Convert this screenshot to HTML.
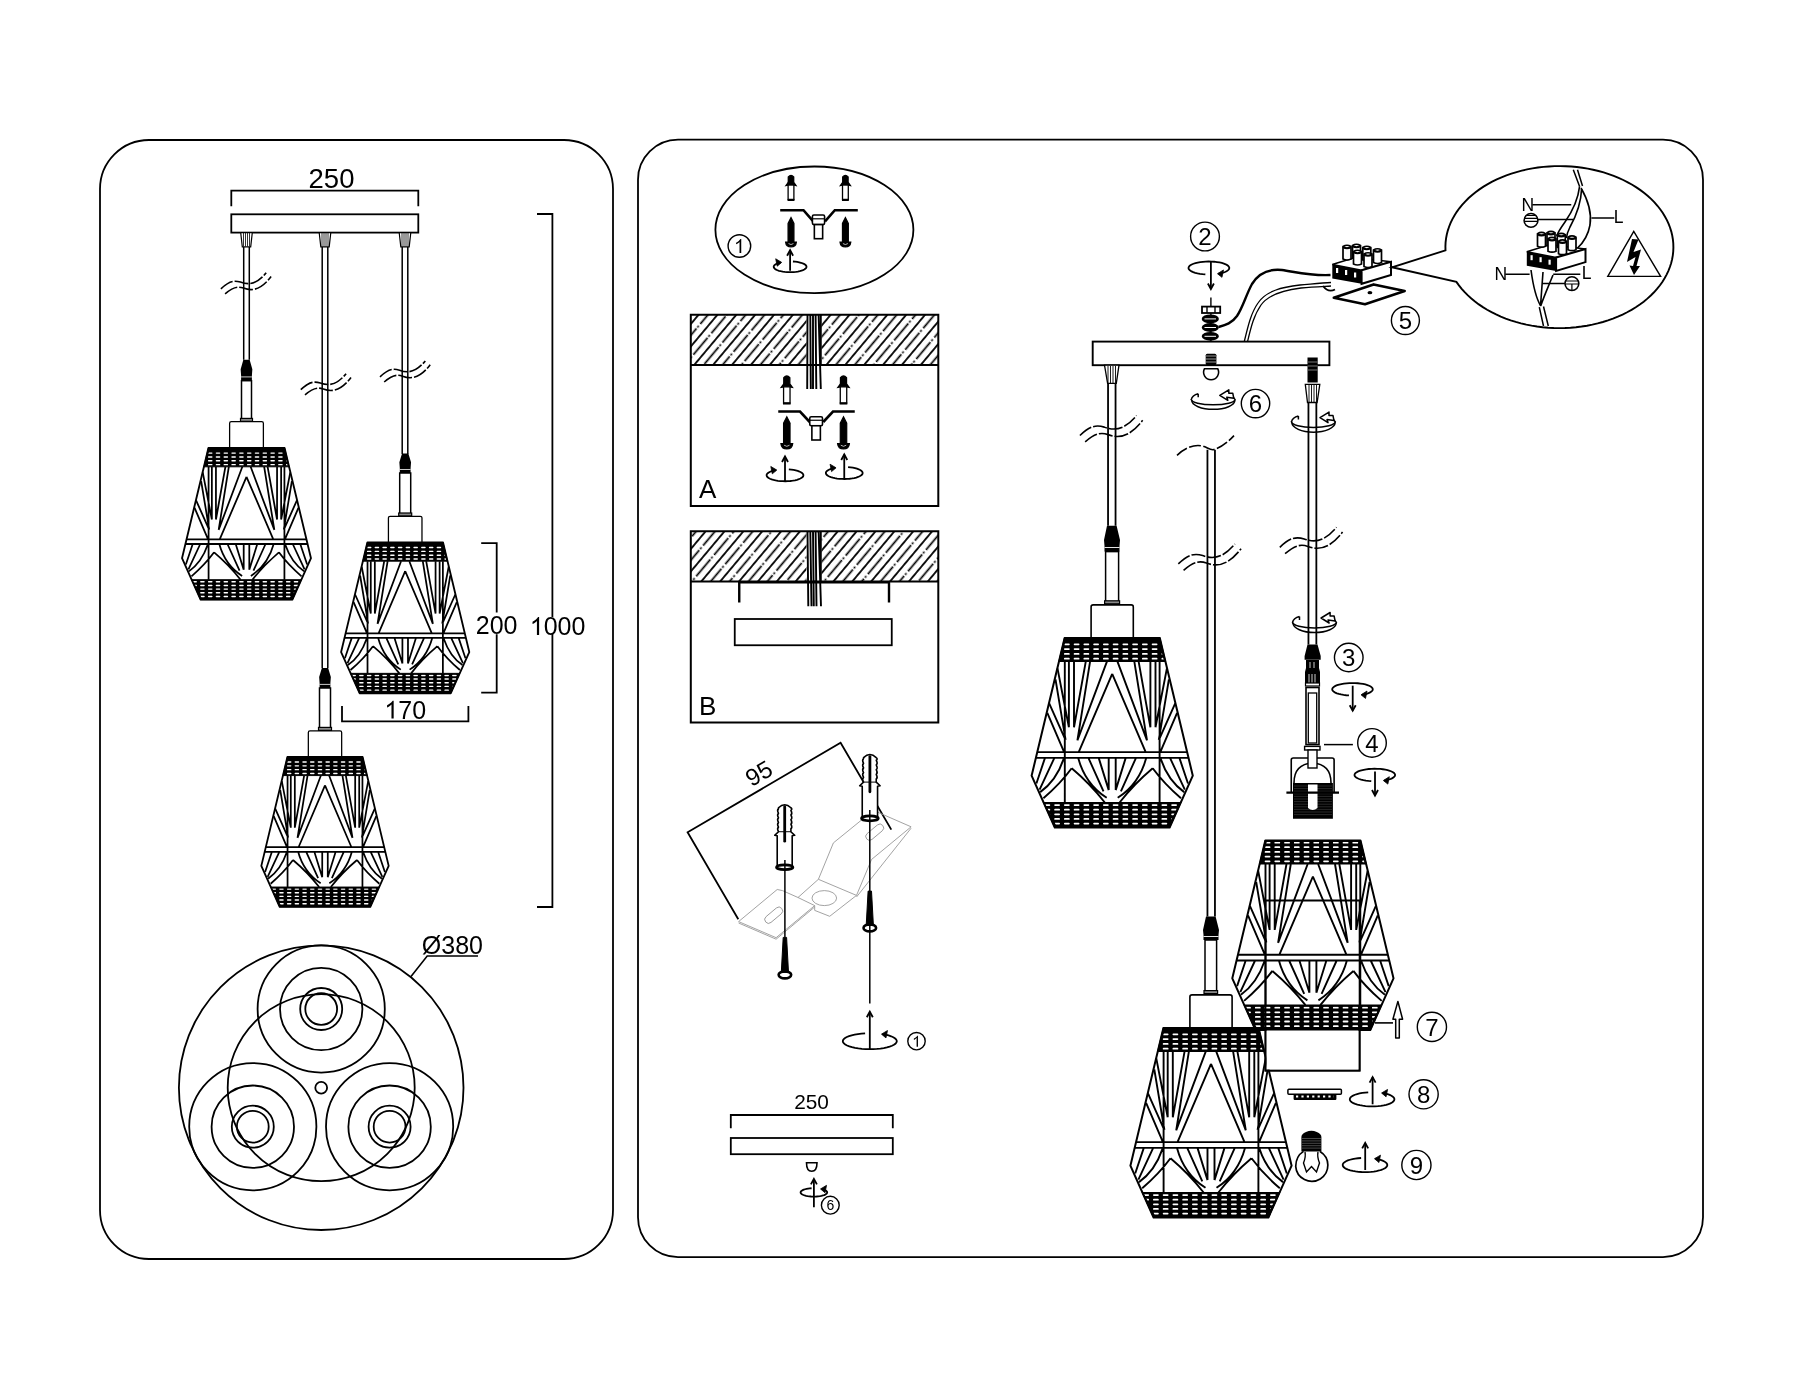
<!DOCTYPE html>
<html><head><meta charset="utf-8"><style>
html,body{margin:0;padding:0;background:#fff;width:1800px;height:1400px;overflow:hidden}
svg{display:block;will-change:transform}
text{font-family:"Liberation Sans",sans-serif;fill:#000}
</style></head><body>
<svg width="1800" height="1400" viewBox="0 0 1800 1400">
<defs>
<g id="shade">
<path d="M-47.6,0H47.6L80.6,137.8L57.4,189.6H-57.4L-80.6,137.8Z" fill="#fff" stroke="none"/>
<path d="M-54.7,30.5L-43.3,89.4M54.7,30.5L43.3,89.4M-43.3,23.5L-43.3,89.4M43.3,23.5L43.3,89.4M-38.2,23.5L-38.2,89.4M38.2,23.5L38.2,89.4M-26.4,23.5L-38.2,89.4M26.4,23.5L38.2,89.4M-56.7,41.5L-46.6,102M56.7,41.5L46.6,102M-22.1,23.5L-34.8,102.4M22.1,23.5L34.8,102.4M-5.2,23.5L-34.8,102.4M5.2,23.5L34.8,102.4M0,36L-33.5,114.2M0,36L33.5,114.2M-63,65.4L-47.4,100.4M63,65.4L47.4,100.4M-64.9,74.9L-48.4,113.4M64.9,74.9L48.4,113.4M-67.2,120L-75.8,145.6M67.2,120L75.8,145.6M-57.8,120L-72.6,151.7M57.8,120L72.6,151.7M-13.5,120L-3.5,152.2M13.5,120L3.5,152.2M-3.5,120L-3.5,152.2M3.5,120L3.5,152.2M-23.8,120L-8.7,153.4M23.8,120L8.7,153.4M-48.5,121Q-56,143 -72,154.2M48.5,121Q56,143 72,154.2M-40.5,130.4Q-52,146 -68.8,160.4M40.5,130.4Q52,146 68.8,160.4M-40.5,130.4Q-22,146 -7.4,164.6M40.5,130.4Q22,146 7.4,164.6M-34,120Q-27,146 -5.5,159.9M34,120Q27,146 5.5,159.9M-47.4,23.5V164.6M47.4,23.5V164.6M-74.94833091436865,114.2H74.94833091436865M-76.33730043541364,120H76.33730043541364" fill="none" stroke="#000" stroke-width="1.9"/>
<path d="M-47.6,0H47.6L53.227721335268505,23.5H-53.227721335268505Z" fill="#000" stroke="#000" stroke-width="1.2"/>
<path d="M-68.5969111969112,164.6H68.5969111969112L57.4,189.6H-57.4Z" fill="#000" stroke="#000" stroke-width="1.2"/>
<clipPath id="bandclip"><path d="M-46.1,1.2H46.1L51.727721335268505,22.4H-51.727721335268505ZM-67.0969111969112,166H67.0969111969112L55.9,187.79999999999998H-55.9Z"/></clipPath>
<path d="M-95,6.4H95M-95,11.2H95M-95,16.0H95M-95,20.8H95M-95,167.2H95M-95,171.8H95M-95,176.4H95M-95,181.0H95M-95,185.7H95" clip-path="url(#bandclip)" stroke="#fff" stroke-width="1.8" stroke-linecap="round" stroke-dasharray="4.0 5.75" stroke-dashoffset="1.1" fill="none"/>
<path d="M-47.6,0H47.6L80.6,137.8L57.4,189.6H-57.4L-80.6,137.8Z" fill="none" stroke="#000" stroke-width="2.0" stroke-linejoin="round"/>
</g>
<g id="shadeS">
<path d="M-47.6,0H47.6L80.6,137.8L57.4,189.6H-57.4L-80.6,137.8Z" fill="#fff" stroke="none"/>
<path d="M-54.7,30.5L-43.3,89.4M54.7,30.5L43.3,89.4M-43.3,23.5L-43.3,89.4M43.3,23.5L43.3,89.4M-38.2,23.5L-38.2,89.4M38.2,23.5L38.2,89.4M-26.4,23.5L-38.2,89.4M26.4,23.5L38.2,89.4M-56.7,41.5L-46.6,102M56.7,41.5L46.6,102M-22.1,23.5L-34.8,102.4M22.1,23.5L34.8,102.4M-5.2,23.5L-34.8,102.4M5.2,23.5L34.8,102.4M0,36L-33.5,114.2M0,36L33.5,114.2M-63,65.4L-47.4,100.4M63,65.4L47.4,100.4M-64.9,74.9L-48.4,113.4M64.9,74.9L48.4,113.4M-67.2,120L-75.8,145.6M67.2,120L75.8,145.6M-57.8,120L-72.6,151.7M57.8,120L72.6,151.7M-13.5,120L-3.5,152.2M13.5,120L3.5,152.2M-3.5,120L-3.5,152.2M3.5,120L3.5,152.2M-23.8,120L-8.7,153.4M23.8,120L8.7,153.4M-48.5,121Q-56,143 -72,154.2M48.5,121Q56,143 72,154.2M-40.5,130.4Q-52,146 -68.8,160.4M40.5,130.4Q52,146 68.8,160.4M-40.5,130.4Q-22,146 -7.4,164.6M40.5,130.4Q22,146 7.4,164.6M-34,120Q-27,146 -5.5,159.9M34,120Q27,146 5.5,159.9M-47.4,23.5V164.6M47.4,23.5V164.6M-74.94833091436865,114.2H74.94833091436865M-76.33730043541364,120H76.33730043541364" fill="none" stroke="#000" stroke-width="2.2"/>
<path d="M-47.6,0H47.6L53.227721335268505,23.5H-53.227721335268505Z" fill="#000" stroke="#000" stroke-width="1.2"/>
<path d="M-68.5969111969112,164.6H68.5969111969112L57.4,189.6H-57.4Z" fill="#000" stroke="#000" stroke-width="1.2"/>
<clipPath id="bandclipS"><path d="M-46.1,1.2H46.1L51.727721335268505,22.4H-51.727721335268505ZM-67.0969111969112,166H67.0969111969112L55.9,187.79999999999998H-55.9Z"/></clipPath>
<path d="M-95,6.4H95M-95,11.2H95M-95,16.0H95M-95,20.8H95M-95,167.2H95M-95,171.8H95M-95,176.4H95M-95,181.0H95M-95,185.7H95" clip-path="url(#bandclipS)" stroke="#fff" stroke-width="1.8" stroke-linecap="round" stroke-dasharray="4.0 5.75" stroke-dashoffset="1.1" fill="none"/>
<path d="M-47.6,0H47.6L80.6,137.8L57.4,189.6H-57.4L-80.6,137.8Z" fill="none" stroke="#000" stroke-width="2.3" stroke-linejoin="round"/>
</g>
<g id="shade5">
<path d="M-47.6,0H47.6L80.6,137.8L57.4,189.6H-57.4L-80.6,137.8Z" fill="#fff" stroke="none"/>
<path d="M-54.7,30.5L-43.3,89.4M54.7,30.5L43.3,89.4M-43.3,23.5L-43.3,89.4M43.3,23.5L43.3,89.4M-38.2,23.5L-38.2,89.4M38.2,23.5L38.2,89.4M-26.4,23.5L-38.2,89.4M26.4,23.5L38.2,89.4M-56.7,41.5L-46.6,102M56.7,41.5L46.6,102M-22.1,23.5L-34.8,102.4M22.1,23.5L34.8,102.4M-5.2,23.5L-34.8,102.4M5.2,23.5L34.8,102.4M0,36L-33.5,114.2M0,36L33.5,114.2M-63,65.4L-47.4,100.4M63,65.4L47.4,100.4M-64.9,74.9L-48.4,113.4M64.9,74.9L48.4,113.4M-67.2,120L-75.8,145.6M67.2,120L75.8,145.6M-57.8,120L-72.6,151.7M57.8,120L72.6,151.7M-13.5,120L-3.5,152.2M13.5,120L3.5,152.2M-3.5,120L-3.5,152.2M3.5,120L3.5,152.2M-23.8,120L-8.7,153.4M23.8,120L8.7,153.4M-48.5,121Q-56,143 -72,154.2M48.5,121Q56,143 72,154.2M-40.5,130.4Q-52,146 -68.8,160.4M40.5,130.4Q52,146 68.8,160.4M-40.5,130.4Q-22,146 -7.4,164.6M40.5,130.4Q22,146 7.4,164.6M-34,120Q-27,146 -5.5,159.9M34,120Q27,146 5.5,159.9M-47.4,23.5V164.6M47.4,23.5V164.6M-74.94833091436865,114.2H74.94833091436865M-76.33730043541364,120H76.33730043541364" fill="none" stroke="#000" stroke-width="1.9"/>
<path d="M-47.6,0H47.6L53.227721335268505,23.5H-53.227721335268505Z" fill="#000" stroke="#000" stroke-width="1.2"/>
<path d="M-68.5969111969112,164.6H68.5969111969112L57.4,189.6H-57.4Z" fill="#000" stroke="#000" stroke-width="1.2"/>
<clipPath id="bandclip5"><path d="M-46.1,1.2H46.1L51.727721335268505,22.4H-51.727721335268505ZM-67.0969111969112,166H67.0969111969112L55.9,187.79999999999998H-55.9Z"/></clipPath>
<path d="M-95,2.2H95M-95,6.7H95M-95,11.4H95M-95,16.1H95M-95,20.8H95M-95,167.2H95M-95,171.8H95M-95,176.4H95M-95,181.0H95M-95,185.7H95" clip-path="url(#bandclip5)" stroke="#fff" stroke-width="1.8" stroke-linecap="round" stroke-dasharray="4.0 5.75" stroke-dashoffset="1.1" fill="none"/>
<path d="M-47.6,0H47.6L80.6,137.8L57.4,189.6H-57.4L-80.6,137.8Z" fill="none" stroke="#000" stroke-width="2.0" stroke-linejoin="round"/>
</g>
</defs>
<rect x="100" y="140" width="513" height="1119" rx="49" ry="49" fill="none" stroke="#000" stroke-width="1.8"/>
<text x="331.5" y="187.6" font-size="27.5" text-anchor="middle" >250</text>
<path d="M231.3,206.3V190.7H418.3V206.3" fill="none" stroke="#000" stroke-width="1.8"/>
<rect x="231.3" y="214.3" width="187" height="18.3" fill="#fff" stroke="#000" stroke-width="1.8"/>
<path d="M240.7,232.6H252.3L250.7,246.9H242.3Z" fill="#fff" stroke="#000" stroke-width="1.2"/>
<path d="M243.5,233V246.5M245.5,233V246.5M247.5,233V246.5M249.5,233V246.5" stroke="#000" stroke-width="0.8"/>
<path d="M319.2,232.6H330.8L329.2,246.9H320.8Z" fill="#fff" stroke="#000" stroke-width="1.2"/>
<path d="M322,233V246.5M324,233V246.5M326,233V246.5M328,233V246.5" stroke="#000" stroke-width="0.8"/>
<path d="M399.2,232.6H410.8L409.2,246.9H400.8Z" fill="#fff" stroke="#000" stroke-width="1.2"/>
<path d="M402,233V246.5M404,233V246.5M406,233V246.5M408,233V246.5" stroke="#000" stroke-width="0.8"/>
<path d="M243.7,246.9V359.7M249.3,246.9V359.7" stroke="#000" stroke-width="1.5" fill="none"/>
<path d="M322.2,246.9V668M327.8,246.9V668" stroke="#000" stroke-width="1.5" fill="none"/>
<path d="M402.2,246.9V454M407.8,246.9V454" stroke="#000" stroke-width="1.5" fill="none"/>
<path d="M220.9,288.8C227.4,282.6 232.4,279.6 240.4,282.1C248.4,285.1 256.4,284.6 266.2,272.8M225.1,293.90000000000003C231.4,288.6 236.4,285.6 243.4,288.1C251.4,291.1 260.4,290.6 271.1,276.6" stroke="#000" stroke-width="1.6" fill="none" stroke-dasharray="14 2"/>
<path d="M300.8,389.7C307.3,383.5 312.3,380.5 320.3,383.0C328.3,386.0 336.3,385.5 346.1,373.7M305.0,394.8C311.3,389.5 316.3,386.5 323.3,389.0C331.3,392.0 340.3,391.5 351.0,377.5" stroke="#000" stroke-width="1.6" fill="none" stroke-dasharray="14 2"/>
<path d="M380.0,376.9C386.5,370.7 391.5,367.7 399.5,370.2C407.5,373.2 415.5,372.7 425.3,360.9M384.2,382.0C390.5,376.7 395.5,373.7 402.5,376.2C410.5,379.2 419.5,378.7 430.2,364.7" stroke="#000" stroke-width="1.6" fill="none" stroke-dasharray="14 2"/>
<path d="M243.35,359.7H249.65L252.35,369.15L251.9,375.45V380.7H241.1V375.45L240.65,369.15Z" fill="#000"/><path d="M241.1,376.91999999999996H251.9" stroke="#fff" stroke-width="0.8"/>
<rect x="241.5" y="380.7" width="10" height="41.30000000000001" fill="#fff" stroke="#000" stroke-width="1.5"/><rect x="240.5" y="418.4" width="12" height="3" fill="#888" stroke="#000" stroke-width="1.2"/>
<path d="M229.62,448V423.2Q229.62,421.6 231.3,421.6H261.7Q263.38,421.6 263.38,423.2V448" fill="#fff" stroke="#000" stroke-width="1.28"/>
<use href="#shadeS" transform="translate(246.5,448) scale(0.8)"/>
<path d="M402.05,453.5H408.34999999999997L411.05,462.275L410.59999999999997,468.125V473H399.8V468.125L399.34999999999997,462.275Z" fill="#000"/><path d="M399.8,469.49H410.59999999999997" stroke="#fff" stroke-width="0.8"/>
<rect x="399.7" y="473" width="11" height="43.60000000000002" fill="#fff" stroke="#000" stroke-width="1.5"/><rect x="398.7" y="513.0" width="13" height="3" fill="#888" stroke="#000" stroke-width="1.2"/>
<path d="M388.4255,542.5V517.855Q388.4255,516.265 390.09499999999997,516.265H420.305Q421.9745,516.265 421.9745,517.855V542.5" fill="#fff" stroke="#000" stroke-width="1.27"/>
<use href="#shadeS" transform="translate(405.2,542.5) scale(0.795)"/>
<path d="M321.85,668H328.15L330.85,677.0L330.4,683.0V688H319.6V683.0L319.15,677.0Z" fill="#000"/><path d="M319.6,684.4H330.4" stroke="#fff" stroke-width="0.8"/>
<rect x="319.5" y="688" width="11" height="43" fill="#fff" stroke="#000" stroke-width="1.5"/><rect x="318.5" y="727.4" width="13" height="3" fill="#888" stroke="#000" stroke-width="1.2"/>
<path d="M308.331,757V732.51Q308.331,730.93 309.99,730.93H340.01Q341.669,730.93 341.669,732.51V757" fill="#fff" stroke="#000" stroke-width="1.26"/>
<use href="#shadeS" transform="translate(325,757) scale(0.79)"/>
<path d="M481.2,543.1H496.7V612.4M496.7,634.2V692.7H481.2" fill="none" stroke="#000" stroke-width="1.8"/>
<text x="496.6" y="633.8" font-size="25" text-anchor="middle" >200</text>
<path d="M537,214H552.4V617M552.4,634V907H537" fill="none" stroke="#000" stroke-width="1.8"/>
<path d="M0.3726,0 H0.2847 V0.56 C0.2625,0.535 0.23,0.51 0.19,0.485 C0.15,0.46 0.125,0.45 0.1089,0.445 V0.53 C0.15,0.548 0.2,0.58 0.245,0.62 C0.29,0.66 0.315,0.69 0.3325,0.716 H0.3726 Z" transform="translate(529.8000000000001,635) scale(25,-25)" fill="#000"/><text x="550.65" y="635" font-size="25" text-anchor="middle">0</text><text x="564.55" y="635" font-size="25" text-anchor="middle">0</text><text x="578.45" y="635" font-size="25" text-anchor="middle">0</text>
<path d="M342,706V721.3H468.4V706" fill="none" stroke="#000" stroke-width="1.8"/>
<path d="M0.3726,0 H0.2847 V0.56 C0.2625,0.535 0.23,0.51 0.19,0.485 C0.15,0.46 0.125,0.45 0.1089,0.445 V0.53 C0.15,0.548 0.2,0.58 0.245,0.62 C0.29,0.66 0.315,0.69 0.3325,0.716 H0.3726 Z" transform="translate(384.34999999999997,718.6) scale(25,-25)" fill="#000"/><text x="405.20" y="718.6" font-size="25" text-anchor="middle">7</text><text x="419.10" y="718.6" font-size="25" text-anchor="middle">0</text>
<g fill="none" stroke="#000" stroke-width="1.8">
<circle cx="321.2" cy="1087.7" r="142.3"/><circle cx="321.2" cy="1087.7" r="93.5"/><circle cx="321.2" cy="1087.7" r="5.9"/>
<circle cx="321.2" cy="1009" r="63.6"/>
<circle cx="321.2" cy="1009" r="41.2"/>
<circle cx="321.2" cy="1009" r="21"/>
<circle cx="321.2" cy="1009" r="15.9"/>
<circle cx="252.8" cy="1126.7" r="63.6"/>
<circle cx="252.8" cy="1126.7" r="41.2"/>
<circle cx="252.8" cy="1126.7" r="21"/>
<circle cx="252.8" cy="1126.7" r="15.9"/>
<circle cx="389.6" cy="1126.7" r="63.6"/>
<circle cx="389.6" cy="1126.7" r="41.2"/>
<circle cx="389.6" cy="1126.7" r="21"/>
<circle cx="389.6" cy="1126.7" r="15.9"/>
</g>
<path d="M411,976.6L427.2,956H478" fill="none" stroke="#000" stroke-width="1.6"/>
<text x="452.4" y="953.8" font-size="25" text-anchor="middle" >Ø380</text>
<rect x="638" y="139.7" width="1065" height="1117.5" rx="40" ry="40" fill="none" stroke="#000" stroke-width="1.8"/>
<ellipse cx="814.4" cy="229.8" rx="99" ry="63.3" fill="none" stroke="#000" stroke-width="1.8"/>
<circle cx="739.4" cy="246" r="11.3" fill="none" stroke="#000" stroke-width="1.4"/><path d="M0.3726,0 H0.2847 V0.56 C0.2625,0.535 0.23,0.51 0.19,0.485 C0.15,0.46 0.125,0.45 0.1089,0.445 V0.53 C0.15,0.548 0.2,0.58 0.245,0.62 C0.29,0.66 0.315,0.69 0.3325,0.716 H0.3726 Z" transform="translate(733.9789999999999,253.02) scale(19.5,-19.5)" fill="#000"/>
<path d="M788.2896551724137,185.0413793103448V176.9103448275862Q791,173.74827586206897 793.7103448275863,176.9103448275862V185.0413793103448L795.9689655172414,185.49310344827586L793.7103448275863,182.3310344827586V185.0413793103448Z" fill="#000" stroke="#000" stroke-width="1.3"/><path d="M788.2896551724137,182.3310344827586L786.0310344827586,185.49310344827586L788.2896551724137,185.0413793103448Z" fill="#000" stroke="#000" stroke-width="1.3"/><rect x="788.1089655172414" y="185.0413793103448" width="5.782068965517242" height="14.455172413793104" fill="#fff" stroke="#000" stroke-width="1.3"/><path d="M787.5668965517241,199.94827586206895H794.4331034482759" stroke="#000" stroke-width="2.08"/><path d="M842.6896551724137,185.0413793103448V176.9103448275862Q845.4,173.74827586206897 848.1103448275862,176.9103448275862V185.0413793103448L850.3689655172413,185.49310344827586L848.1103448275862,182.3310344827586V185.0413793103448Z" fill="#000" stroke="#000" stroke-width="1.3"/><path d="M842.6896551724137,182.3310344827586L840.4310344827586,185.49310344827586L842.6896551724137,185.0413793103448Z" fill="#000" stroke="#000" stroke-width="1.3"/><rect x="842.5089655172413" y="185.0413793103448" width="5.782068965517242" height="14.455172413793104" fill="#fff" stroke="#000" stroke-width="1.3"/><path d="M841.9668965517241,199.94827586206895H848.8331034482759" stroke="#000" stroke-width="2.08"/><path d="M780.2,210.2H803.5L813.25,221.4M825.05,221.4L834.8,210.2H857.8" fill="none" stroke="#000" stroke-width="2.6"/><rect x="812.4" y="215" width="12.200000000000045" height="9.599999999999994" rx="1.5" fill="#fff" stroke="#000" stroke-width="1.6"/><path d="M812.4,218.8H824.6" stroke="#000" stroke-width="1.2"/><rect x="814.35" y="224.6" width="8.3" height="14.1" fill="#fff" stroke="#000" stroke-width="1.6"/><path d="M791,217.6L793.94,223.48V242.1H788.06V223.48Z" fill="#000" stroke="#000" stroke-width="1.2"/><path d="M785.61,242.1H796.39Q795.9,247.0 791,247.0Q786.1,247.0 785.61,242.1Z" fill="#000" stroke="#000" stroke-width="1.2"/><path d="M788.55,243.57Q791,245.53 793.45,243.57" fill="none" stroke="#fff" stroke-width="0.7"/><path d="M845.4,217.6L848.34,223.48V242.1H842.4599999999999V223.48Z" fill="#000" stroke="#000" stroke-width="1.2"/><path d="M840.01,242.1H850.79Q850.3,247.0 845.4,247.0Q840.5,247.0 840.01,242.1Z" fill="#000" stroke="#000" stroke-width="1.2"/><path d="M842.9499999999999,243.57Q845.4,245.53 847.85,243.57" fill="none" stroke="#fff" stroke-width="0.7"/>
<path d="M792.95,261.48 L795.13,261.66 L797.22,261.94 L799.18,262.30 L800.97,262.76 L802.55,263.28 L803.89,263.88 L804.98,264.53 L805.78,265.22 L806.29,265.94 L806.50,266.68 L806.39,267.42 L805.98,268.15 L805.27,268.86 L804.27,269.52 L803.00,270.13 L801.49,270.68 L799.77,271.16 L797.86,271.56 L795.81,271.86 L793.65,272.07 L791.42,272.18 L789.17,272.19 L786.94,272.10 L784.76,271.91 L782.69,271.62 L780.75,271.24 L778.99,270.77 L777.45,270.23 L776.14,269.63 L775.09,268.97 L774.33,268.28 L773.86,267.55 L773.70,266.81 L773.85,266.07 L774.31,265.35 L775.06,264.65 L776.10,263.99 L777.40,263.38 L778.94,262.84 L780.69,262.38" fill="none" stroke="#000" stroke-width="1.8"/><path d="M781.6933464438429,262.3765789608395L775.6933464438429,258.77657896083946L777.1933464438429,266.1765789608395Z" fill="#000" stroke="#000" stroke-width="0.8" stroke-linejoin="round"/>
<path d="M790.1,270.8V250.2" stroke="#000" stroke-width="1.8"/><path d="M787.1,255.7L790.1,250.2L793.1,255.7" fill="none" stroke="#000" stroke-width="1.8"/>
<defs><pattern id="hatch" patternUnits="userSpaceOnUse" width="14.46" height="28" patternTransform="rotate(40)"><path d="M0,0V28" stroke="#000" stroke-width="1.8"/><path d="M14.46,0V28" stroke="#000" stroke-width="1.8"/><path d="M7.23,0V22M7.23,24.6V26.4" stroke="#000" stroke-width="1.7"/></pattern></defs>
<rect x="690.8" y="314.75" width="247.5" height="50.25" fill="url(#hatch)"/>
<rect x="806.5" y="315.75" width="15" height="48.25" fill="#fff"/>
<rect x="690.8" y="531.25" width="247.5" height="50.25" fill="url(#hatch)"/>
<rect x="806.5" y="532.25" width="15" height="48.25" fill="#fff"/>
<rect x="690.8" y="314.75" width="247.5" height="191.25" fill="none" stroke="#000" stroke-width="2"/>
<path d="M690.8,365H938.3" stroke="#000" stroke-width="2"/>
<path d="M807.5,314.75L807.2,389M810.3,314.75L810.8,389M813,314.75V389M815.6,314.75L816.3,389M818.6,314.75L820.8,389M820.8,314.75V366" fill="none" stroke="#000" stroke-width="1.9"/>
<path d="M783.7741379310345,386.8534482758621V377.7758620689655Q786.8,374.24568965517244 789.8258620689654,377.7758620689655V386.8534482758621L792.3474137931034,387.35775862068965L789.8258620689654,383.82758620689657V386.8534482758621Z" fill="#000" stroke="#000" stroke-width="1.3"/><path d="M783.7741379310345,383.82758620689657L781.2525862068965,387.35775862068965L783.7741379310345,386.8534482758621Z" fill="#000" stroke="#000" stroke-width="1.3"/><rect x="783.5724137931034" y="386.8534482758621" width="6.455172413793104" height="16.137931034482758" fill="#fff" stroke="#000" stroke-width="1.3"/><path d="M782.9672413793103,403.49568965517244H790.6327586206896" stroke="#000" stroke-width="2.08"/><path d="M840.4741379310345,386.8534482758621V377.7758620689655Q843.5,374.24568965517244 846.5258620689655,377.7758620689655V386.8534482758621L849.0474137931035,387.35775862068965L846.5258620689655,383.82758620689657V386.8534482758621Z" fill="#000" stroke="#000" stroke-width="1.3"/><path d="M840.4741379310345,383.82758620689657L837.9525862068965,387.35775862068965L840.4741379310345,386.8534482758621Z" fill="#000" stroke="#000" stroke-width="1.3"/><rect x="840.2724137931034" y="386.8534482758621" width="6.455172413793104" height="16.137931034482758" fill="#fff" stroke="#000" stroke-width="1.3"/><path d="M839.6672413793103,403.49568965517244H847.3327586206897" stroke="#000" stroke-width="2.08"/><path d="M778.25,411.5H800L809.75,422M823.25,422L833,411.5H854.75" fill="none" stroke="#000" stroke-width="2.6"/><rect x="809.75" y="416.75" width="12.75" height="9.0" rx="1.5" fill="#fff" stroke="#000" stroke-width="1.6"/><path d="M809.75,420.25H822.5" stroke="#000" stroke-width="1.2"/><rect x="811.875" y="425.75" width="8.5" height="14.25" fill="#fff" stroke="#000" stroke-width="1.6"/><path d="M786.8,416.75L790.025,423.2V443.625H783.5749999999999V423.2Z" fill="#000" stroke="#000" stroke-width="1.2"/><path d="M780.8874999999999,443.625H792.7125Q792.175,449.0 786.8,449.0Q781.425,449.0 780.8874999999999,443.625Z" fill="#000" stroke="#000" stroke-width="1.2"/><path d="M784.1125,445.2375Q786.8,447.3875 789.4875,445.2375" fill="none" stroke="#fff" stroke-width="0.7"/><path d="M843.5,416.75L846.725,423.2V443.625H840.275V423.2Z" fill="#000" stroke="#000" stroke-width="1.2"/><path d="M837.5875,443.625H849.4125Q848.875,449.0 843.5,449.0Q838.125,449.0 837.5875,443.625Z" fill="#000" stroke="#000" stroke-width="1.2"/><path d="M840.8125,445.2375Q843.5,447.3875 846.1875,445.2375" fill="none" stroke="#fff" stroke-width="0.7"/>
<path d="M788.83,469.38 L791.28,469.61 L793.61,469.95 L795.78,470.39 L797.74,470.92 L799.45,471.54 L800.89,472.22 L802.02,472.97 L802.82,473.76 L803.28,474.58 L803.39,475.41 L803.15,476.24 L802.56,477.04 L801.63,477.82 L800.38,478.54 L798.83,479.21 L797.02,479.79 L794.98,480.29 L792.75,480.69 L790.36,480.99 L787.88,481.18 L785.34,481.25 L782.79,481.21 L780.28,481.05 L777.87,480.78 L775.59,480.41 L773.50,479.93 L771.62,479.37 L770.00,478.73 L768.67,478.02 L767.66,477.25 L766.97,476.45 L766.64,475.63 L766.65,474.79 L767.02,473.97 L767.74,473.17 L768.78,472.41 L770.14,471.71 L771.79,471.07 L773.68,470.52 L775.80,470.05" fill="none" stroke="#000" stroke-width="1.8"/><path d="M776.8,470.05384757729337L770.8,466.45384757729335L772.3,473.8538475772934Z" fill="#000" stroke="#000" stroke-width="0.8" stroke-linejoin="round"/>
<path d="M785,481V456.5" stroke="#000" stroke-width="1.8"/><path d="M782,462.0L785,456.5L788,462.0" fill="none" stroke="#000" stroke-width="1.8"/>
<path d="M848.08,467.13 L850.53,467.36 L852.86,467.70 L855.03,468.14 L856.99,468.67 L858.70,469.29 L860.14,469.97 L861.27,470.72 L862.07,471.51 L862.53,472.33 L862.64,473.16 L862.40,473.99 L861.81,474.79 L860.88,475.57 L859.63,476.29 L858.08,476.96 L856.27,477.54 L854.23,478.04 L852.00,478.44 L849.61,478.74 L847.13,478.93 L844.59,479.00 L842.04,478.96 L839.53,478.80 L837.12,478.53 L834.84,478.16 L832.75,477.68 L830.87,477.12 L829.25,476.48 L827.92,475.77 L826.91,475.00 L826.22,474.20 L825.89,473.38 L825.90,472.54 L826.27,471.72 L826.99,470.92 L828.03,470.16 L829.39,469.46 L831.04,468.82 L832.93,468.27 L835.05,467.80" fill="none" stroke="#000" stroke-width="1.8"/><path d="M836.05,467.80384757729337L830.05,464.20384757729335L831.55,471.6038475772934Z" fill="#000" stroke="#000" stroke-width="0.8" stroke-linejoin="round"/>
<path d="M844.25,479V454.5" stroke="#000" stroke-width="1.8"/><path d="M841.25,460.0L844.25,454.5L847.25,460.0" fill="none" stroke="#000" stroke-width="1.8"/>
<text x="699" y="497.8" font-size="26" text-anchor="start" >A</text>
<rect x="690.8" y="531.25" width="247.5" height="191.25" fill="none" stroke="#000" stroke-width="2"/>
<path d="M690.8,581.5H938.3" stroke="#000" stroke-width="2"/>
<path d="M739.25,582.3H889" stroke="#000" stroke-width="2.6"/>
<path d="M739.25,581.5V602.5M889,581.5V602.5" stroke="#000" stroke-width="2.4"/>
<path d="M807.5,531.25L808.3,606.3M810.3,531.25L811.5,606.3M813,531.25L813.8,606.3M815.6,531.25L816.5,606.3M818.6,531.25L821,606.3M820.8,531.25V582" fill="none" stroke="#000" stroke-width="1.9"/>
<rect x="734.75" y="619" width="157" height="26.25" fill="none" stroke="#000" stroke-width="1.8"/>
<text x="699" y="715" font-size="26" text-anchor="start" >B</text>
<path d="M738.3,919.3L687.6,832.3L840.6,742.8L891.3,829.6" fill="none" stroke="#000" stroke-width="1.8"/>
<text x="0" y="0" font-size="24" text-anchor="middle" transform="translate(763,780.5) rotate(-30)">95</text>
<g fill="none" stroke="#999" stroke-width="0.9">
<path d="M738.6,921.6L777.2,889.5L782.5,890.6L798,897.5L818.4,879.3L833.4,842.9L861.8,819.8L874.2,810.7L911.1,826.8L871.5,859.5L856.5,895.4L829.7,916.3L814.7,910.4L814.7,905.6L776.1,937.7Z"/>
<path d="M818.4,879.3L856.5,895.4M798,897.5L814.7,905.6M738.6,923L776.1,939.2L814.7,907M856.5,897L911.1,828.2"/>
<ellipse cx="824.3" cy="898.1" rx="12.3" ry="7.5"/>
<rect x="-10.5" y="-3.8" width="21" height="7.6" rx="3.8" transform="translate(773.7,915.2) rotate(-40)"/>
<rect x="-10.5" y="-3.8" width="21" height="7.6" rx="3.8" transform="translate(874.7,832.2) rotate(-40)"/>
</g>
<path d="M778.50,831.73Q776.71,828.53 778.50,827.13Q776.71,823.93 778.50,822.54Q776.71,819.34 778.50,817.94Q776.71,814.74 778.50,813.34Q776.71,810.15 778.50,808.75V807.75Q784.70,801.75 790.90,807.75Q792.69,809.15 790.90,810.35Q792.69,813.74 790.90,814.94Q792.69,818.34 790.90,819.54Q792.69,822.94 790.90,824.13Q792.69,827.53 790.90,828.73V831.73L794.69,835.33L792.19,835.73V865.70H777.21V835.73L774.71,835.33Z" fill="#fff" stroke="#000" stroke-width="1.6" stroke-linejoin="round"/><path d="M778.50,831.7287878787879H790.90" stroke="#000" stroke-width="1"/><path d="M784.7,806.7477272727273V841.221590909091" stroke="#000" stroke-width="2.8" stroke-linecap="round"/><ellipse cx="784.7" cy="867.201893939394" rx="8.19" ry="2.40" fill="#fff" stroke="#000" stroke-width="2.8"/>
<path d="M784.9,860V937.4" stroke="#000" stroke-width="1.5"/>
<path d="M783.1999999999999,937.4H786.6L788.5,972.344H781.3Z" fill="#000" stroke="#000" stroke-width="1"/><ellipse cx="784.9" cy="974.84" rx="6.3" ry="3.5" fill="none" stroke="#000" stroke-width="2.6"/>
<path d="M863.57,782.09Q861.73,778.83 863.57,777.40Q861.73,774.13 863.57,772.70Q861.73,769.43 863.57,768.00Q861.73,764.73 863.57,763.30Q861.73,760.04 863.57,758.61V757.58Q869.90,751.46 876.23,757.58Q878.07,759.01 876.23,760.24Q878.07,763.71 876.23,764.94Q878.07,768.41 876.23,769.64Q878.07,773.11 876.23,774.33Q878.07,777.80 876.23,779.03V782.09L880.11,785.77L877.56,786.18V816.82H862.24V786.18L859.69,785.77Z" fill="#fff" stroke="#000" stroke-width="1.6" stroke-linejoin="round"/><path d="M863.57,782.0939393939394H876.23" stroke="#000" stroke-width="1"/><path d="M869.9,756.5636363636363V791.7954545454545" stroke="#000" stroke-width="2.8" stroke-linecap="round"/><ellipse cx="869.9" cy="818.3469696969696" rx="8.37" ry="2.45" fill="#fff" stroke="#000" stroke-width="2.8"/>
<path d="M869.8,810V1003.5" stroke="#000" stroke-width="1.5"/>
<path d="M868.0999999999999,891.1H871.5L873.4,925.456H866.1999999999999Z" fill="#000" stroke="#000" stroke-width="1"/><ellipse cx="869.8" cy="927.91" rx="6.3" ry="3.5" fill="none" stroke="#000" stroke-width="2.6"/>
<path d="M882.48,1034.14 L885.69,1034.73 L888.59,1035.45 L891.12,1036.29 L893.23,1037.22 L894.88,1038.24 L896.03,1039.31 L896.67,1040.41 L896.78,1041.54 L896.35,1042.65 L895.40,1043.74 L893.95,1044.78 L892.02,1045.74 L889.66,1046.62 L886.90,1047.39 L883.81,1048.04 L880.44,1048.55 L876.86,1048.92 L873.14,1049.14 L869.35,1049.20 L865.58,1049.10 L861.88,1048.85 L858.35,1048.44 L855.04,1047.90 L852.02,1047.22 L849.35,1046.42 L847.08,1045.52 L845.26,1044.54 L843.93,1043.49 L843.10,1042.39 L842.80,1041.27 L843.03,1040.15 L843.79,1039.05 L845.07,1037.99 L846.83,1037.00 L849.04,1036.08 L851.66,1035.27 L854.64,1034.58 L857.92,1034.02 L861.43,1033.59 L865.11,1033.32" fill="none" stroke="#000" stroke-width="1.8"/><path d="M881.475732195219,1034.1364192571286L887.475732195219,1030.5364192571287L885.975732195219,1037.9364192571286Z" fill="#000" stroke="#000" stroke-width="0.8" stroke-linejoin="round"/>
<path d="M869.8,1049V1011.7" stroke="#000" stroke-width="1.8"/><path d="M866.8,1017.2L869.8,1011.7L872.8,1017.2" fill="none" stroke="#000" stroke-width="1.8"/>
<circle cx="916.5" cy="1041.2" r="8.7" fill="none" stroke="#000" stroke-width="1.4"/><path d="M0.3726,0 H0.2847 V0.56 C0.2625,0.535 0.23,0.51 0.19,0.485 C0.15,0.46 0.125,0.45 0.1089,0.445 V0.53 C0.15,0.548 0.2,0.58 0.245,0.62 C0.29,0.66 0.315,0.69 0.3325,0.716 H0.3726 Z" transform="translate(912.191,1046.78) scale(15.5,-15.5)" fill="#000"/>
<text x="811.5" y="1109.1" font-size="20.8" text-anchor="middle" >250</text>
<path d="M730.8,1128.3V1115H892.8V1128.3" fill="none" stroke="#000" stroke-width="1.8"/>
<rect x="730.8" y="1138" width="162" height="16.2" fill="none" stroke="#000" stroke-width="1.8"/>
<path d="M806.5,1162.8H817Q817,1171.3 811.7,1171.3Q806.5,1171.3 806.5,1162.8Z" fill="none" stroke="#000" stroke-width="1.6"/>
<path d="M821.53,1188.96 L822.95,1189.32 L824.20,1189.74 L825.26,1190.21 L826.10,1190.73 L826.71,1191.27 L827.08,1191.83 L827.20,1192.41 L827.07,1192.98 L826.69,1193.55 L826.07,1194.09 L825.22,1194.60 L824.16,1195.07 L822.91,1195.49 L821.48,1195.85 L819.91,1196.15 L818.23,1196.37 L816.47,1196.52 L814.65,1196.59 L812.83,1196.59 L811.02,1196.50 L809.27,1196.34 L807.60,1196.10 L806.06,1195.79 L804.66,1195.42 L803.44,1194.99 L802.41,1194.52 L801.60,1194.00 L801.02,1193.45 L800.69,1192.88 L800.60,1192.31 L800.77,1191.73 L801.18,1191.17 L801.83,1190.63 L802.71,1190.13 L803.81,1189.67 L805.09,1189.25 L806.54,1188.90 L808.12,1188.62 L809.82,1188.40 L811.59,1188.26" fill="none" stroke="#000" stroke-width="1.8"/><path d="M820.5285666034689,1188.9595614139864L826.5285666034689,1185.3595614139865L825.0285666034689,1192.7595614139864Z" fill="#000" stroke="#000" stroke-width="0.8" stroke-linejoin="round"/>
<path d="M813.9,1207.2V1178.9" stroke="#000" stroke-width="1.8"/><path d="M810.9,1184.4L813.9,1178.9L816.9,1184.4" fill="none" stroke="#000" stroke-width="1.8"/>
<circle cx="830.3" cy="1205.2" r="8.9" fill="none" stroke="#000" stroke-width="1.4"/><text x="830.30" y="1210.24" font-size="14" text-anchor="middle">6</text>
<rect x="1092.7" y="341.6" width="236.7" height="23.6" fill="#fff" stroke="#000" stroke-width="1.9"/>
<path d="M1104.5,365.2H1119L1116.3,383.4H1107.6Z" fill="#fff" stroke="#000" stroke-width="1.3"/>
<path d="M1108,366V383M1110.5,366V383M1113,366V383M1115.5,366V383" stroke="#000" stroke-width="0.9"/>
<path d="M1108.05,383.4V525.7M1115.55,383.4V525.7" stroke="#000" stroke-width="1.8" fill="none"/>
<path d="M1079.925,435.5C1088.05,427.75 1094.3,424.0 1104.3,427.125C1114.3,430.875 1124.3,430.25 1136.55,415.5M1085.175,441.875C1093.05,435.25 1099.3,431.5 1108.05,434.625C1118.05,438.375 1129.3,437.75 1142.675,420.25" stroke="#000" stroke-width="1.6" fill="none" stroke-dasharray="14 2"/>
<path d="M1107,525.7H1116.6L1120,540L1119.5,546V551.6H1104.5V546L1104,540Z" fill="#000"/>
<path d="M1104.5,547.5H1119.5" stroke="#fff" stroke-width="0.9"/>
<rect x="1105.6" y="551.6" width="13" height="52.799999999999955" fill="#fff" stroke="#000" stroke-width="1.5"/><rect x="1104.6" y="600.8" width="15" height="3" fill="#888" stroke="#000" stroke-width="1.2"/>
<path d="M1091.1000000000001,637.9V606.9Q1091.1000000000001,604.9 1093.2,604.9H1131.2Q1133.3,604.9 1133.3,606.9V637.9" fill="#fff" stroke="#000" stroke-width="1.60"/>
<use href="#shade" transform="translate(1112.2,637.9) scale(1.0)"/>
<path d="M1207.45,449.7V916.6M1214.95,449.7V916.6" stroke="#000" stroke-width="1.8" fill="none"/>
<path d="M1177,455.3C1186,447 1196,443.5 1204,446.5C1208,448 1211,450.5 1214,449.5C1221,447.5 1228,442 1234,435.6" fill="none" stroke="#000" stroke-width="1.6" stroke-dasharray="12 2.5"/>
<path d="M1178.325,563.9C1186.45,556.15 1192.7,552.4 1202.7,555.525C1212.7,559.275 1222.7,558.65 1234.95,543.9M1183.575,570.275C1191.45,563.65 1197.7,559.9 1206.45,563.025C1216.45,566.775 1227.7,566.15 1241.075,548.65" stroke="#000" stroke-width="1.6" fill="none" stroke-dasharray="14 2"/>
<path d="M1206,916.6H1215.6L1219,930L1218.5,935V940H1203.5V935L1203,930Z" fill="#000"/>
<path d="M1203.5,936.5H1218.5" stroke="#fff" stroke-width="0.9"/>
<rect x="1205.0" y="940" width="11.6" height="54.200000000000045" fill="#fff" stroke="#000" stroke-width="1.5"/><rect x="1204.0" y="990.6" width="13.6" height="3" fill="#888" stroke="#000" stroke-width="1.2"/>
<path d="M1189.9,1027.9V996.9000000000001Q1189.9,994.9000000000001 1192.0,994.9000000000001H1230.0Q1232.1,994.9000000000001 1232.1,996.9000000000001V1027.9" fill="#fff" stroke="#000" stroke-width="1.60"/>
<use href="#shade" transform="translate(1211.0,1027.9) scale(1.0)"/>
<rect x="1307.5" y="357.5" width="10.2" height="25" fill="#000"/>
<path d="M1307.5,362H1317.7M1307.5,366H1317.7M1307.5,370H1317.7" stroke="#777" stroke-width="1"/>
<path d="M1305.3,384.3H1319.8L1317.1,402.5H1307.5Z" fill="#fff" stroke="#000" stroke-width="1.3"/>
<path d="M1309,385V402M1311.5,385V402M1314,385V402M1316.5,385V402" stroke="#000" stroke-width="0.9"/>
<path d="M1308.45,402.5V644.6M1316.3500000000001,402.5V644.6" stroke="#000" stroke-width="1.8" fill="none"/>
<path d="M1291.4,421.6A22,6 0 0 0 1335.4,421.6" fill="none" stroke="#000" stroke-width="1.5"/><path d="M1291.9,422.6A21.5,9.5 0 0 0 1335.1000000000001,422.6" fill="none" stroke="#000" stroke-width="1.5"/><path d="M1291.4,422.1Q1292.4,417.6 1298.4,416.1M1298.4,416.1V419.6" fill="none" stroke="#000" stroke-width="1.5"/><path d="M1335.4,422.1Q1333.4,417.6 1323.3000000000002,416.6" fill="none" stroke="#000" stroke-width="1.5"/><path d="M1329.0,412.1L1320.0,417.6L1328.0,422.6L1327.0,419.6L1334.0,420.6L1333.0,415.6L1329.0,415.6Z" fill="#fff" stroke="#000" stroke-width="1.5" stroke-linejoin="round"/>
<path d="M1279.825,547.3C1287.95,539.55 1294.2,535.8 1304.2,538.925C1314.2,542.675 1324.2,542.05 1336.45,527.3M1285.075,553.675C1292.95,547.05 1299.2,543.3 1307.95,546.425C1317.95,550.175 1329.2,549.55 1342.575,532.05" stroke="#000" stroke-width="1.6" fill="none" stroke-dasharray="14 2"/>
<path d="M1292.5,622A22,6 0 0 0 1336.5,622" fill="none" stroke="#000" stroke-width="1.5"/><path d="M1293.0,623A21.5,9.5 0 0 0 1336.2,623" fill="none" stroke="#000" stroke-width="1.5"/><path d="M1292.5,622.5Q1293.5,618 1299.5,616.5M1299.5,616.5V620" fill="none" stroke="#000" stroke-width="1.5"/><path d="M1336.5,622.5Q1334.5,618 1324.4,617" fill="none" stroke="#000" stroke-width="1.5"/><path d="M1330.1,612.5L1321.1,618L1329.1,623L1328.1,620L1335.1,621L1334.1,616L1330.1,616Z" fill="#fff" stroke="#000" stroke-width="1.5" stroke-linejoin="round"/>
<path d="M1307.5,644.6H1317.5L1320.7,656V659.8H1304.6V656Z" fill="#000"/>
<path d="M1306,660H1319V668L1320,672V684.8H1305V672L1306,668Z" fill="#000"/>
<path d="M1310,662V668M1314,662V668M1309,674V683M1312,674V683M1315,674V683" stroke="#fff" stroke-width="0.8"/>
<rect x="1305.5" y="683" width="14" height="3" fill="#fff" stroke="#000" stroke-width="1.2"/>
<rect x="1306" y="687.5" width="13" height="57.1" fill="#fff" stroke="#000" stroke-width="1.6"/>
<rect x="1308.3" y="693" width="8.4" height="50" fill="none" stroke="#000" stroke-width="1.3"/>
<rect x="1304.6" y="746.4" width="15.4" height="3.6" fill="#fff" stroke="#000" stroke-width="1.4"/>
<circle cx="1348.75" cy="657.5" r="14.3" fill="none" stroke="#000" stroke-width="1.4"/><text x="1348.75" y="666.14" font-size="24" text-anchor="middle">3</text>
<path d="M1348.97,695.46 L1346.21,695.24 L1343.57,694.91 L1341.10,694.47 L1338.86,693.93 L1336.89,693.30 L1335.23,692.58 L1333.90,691.81 L1332.95,690.98 L1332.38,690.12 L1332.20,689.25 L1332.43,688.37 L1333.05,687.51 L1334.05,686.69 L1335.42,685.92 L1337.12,685.22 L1339.13,684.60 L1341.40,684.07 L1343.89,683.64 L1346.55,683.32 L1349.32,683.13 L1352.16,683.05 L1355.01,683.10 L1357.81,683.27 L1360.50,683.56 L1363.03,683.96 L1365.36,684.46 L1367.43,685.07 L1369.21,685.75 L1370.66,686.51 L1371.75,687.32 L1372.46,688.17 L1372.78,689.04 L1372.70,689.92 L1372.22,690.78 L1371.35,691.62 L1370.12,692.41 L1368.53,693.13 L1366.63,693.79 L1364.45,694.35 L1362.03,694.82" fill="none" stroke="#000" stroke-width="1.8"/><path d="M1361.0302727245537,694.8184224553682L1367.0302727245537,691.0184224553683L1365.5302727245537,698.4184224553683Z" fill="#000" stroke="#000" stroke-width="0.8" stroke-linejoin="round"/>
<path d="M1352.7,685.7V710.7" stroke="#000" stroke-width="1.8"/><path d="M1349.7,705.2L1352.7,710.7L1355.7,705.2" fill="none" stroke="#000" stroke-width="1.8"/>
<circle cx="1372" cy="742.9" r="14.3" fill="none" stroke="#000" stroke-width="1.4"/><text x="1372.00" y="751.54" font-size="24" text-anchor="middle">4</text>
<path d="M1324,744.6H1352.9" stroke="#000" stroke-width="1.5"/>
<path d="M1291.25,792V760Q1291.25,758 1293.25,758H1332.1Q1334.1,758 1334.1,760V792" fill="none" stroke="#000" stroke-width="1.6"/>
<path d="M1294,783Q1294,764 1312.5,763Q1331,764 1331,783" fill="#fff" stroke="#000" stroke-width="1.6"/>
<rect x="1308" y="750" width="9" height="18" fill="#fff" stroke="#000" stroke-width="1.4"/>
<rect x="1293" y="783" width="39.9" height="35.75" fill="#000"/>
<path d="M1294,786.0H1332M1294,788.6H1332M1294,791.2H1332M1294,793.8H1332M1294,796.4H1332M1294,799.0H1332M1294,801.6H1332M1294,804.2H1332M1294,806.8H1332M1294,809.4H1332M1294,812.0H1332M1294,814.6H1332" stroke="#444" stroke-width="0.6"/>
<path d="M1308,784.5H1317.5V808Q1312.7,812 1308,808Z" fill="#fff"/>
<path d="M1286.4,792.6H1339" stroke="#000" stroke-width="2.2"/>
<path d="M1371.27,781.16 L1368.51,780.94 L1365.87,780.61 L1363.40,780.17 L1361.16,779.63 L1359.19,779.00 L1357.53,778.28 L1356.20,777.51 L1355.25,776.68 L1354.68,775.82 L1354.50,774.95 L1354.73,774.07 L1355.35,773.21 L1356.35,772.39 L1357.72,771.62 L1359.42,770.92 L1361.43,770.30 L1363.70,769.77 L1366.19,769.34 L1368.85,769.02 L1371.62,768.83 L1374.46,768.75 L1377.31,768.80 L1380.11,768.97 L1382.80,769.26 L1385.33,769.66 L1387.66,770.16 L1389.73,770.77 L1391.51,771.45 L1392.96,772.21 L1394.05,773.02 L1394.76,773.87 L1395.08,774.74 L1395.00,775.62 L1394.52,776.48 L1393.65,777.32 L1392.42,778.11 L1390.83,778.83 L1388.93,779.49 L1386.75,780.05 L1384.33,780.52" fill="none" stroke="#000" stroke-width="1.8"/><path d="M1383.3302727245537,780.5184224553683L1389.3302727245537,776.7184224553683L1387.8302727245537,784.1184224553683Z" fill="#000" stroke="#000" stroke-width="0.8" stroke-linejoin="round"/>
<path d="M1375,771.5V795.5" stroke="#000" stroke-width="1.8"/><path d="M1372,790.0L1375,795.5L1378,790.0" fill="none" stroke="#000" stroke-width="1.8"/>
<use href="#shade5" transform="translate(1312.9,840.5) scale(1.0)"/>
<path d="M1265.5,900.5H1359.6V1070.6H1265.5Z" fill="none" stroke="#000" stroke-width="1.8"/>
<rect x="1266.5" y="1030.5" width="92" height="39" fill="#fff"/>
<path d="M1265.5,1029.5V1070.6H1359.6V1029.5" fill="none" stroke="#000" stroke-width="1.8"/>
<path d="M1375,1022.9H1393" stroke="#000" stroke-width="1.6"/>
<path d="M1395.7,1037.9V1019.3H1392.9L1397.9,1001.4L1402.6,1019.3H1399.3V1037.9Z" fill="#fff" stroke="#000" stroke-width="1.5" stroke-linejoin="round"/>
<circle cx="1431.9" cy="1026.9" r="14.6" fill="none" stroke="#000" stroke-width="1.4"/><text x="1431.90" y="1035.5400000000002" font-size="24" text-anchor="middle">7</text>
<rect x="1287.9" y="1089.3" width="53.5" height="5" rx="1" fill="#fff" stroke="#000" stroke-width="1.5"/>
<path d="M1293.6,1094.3H1336.4V1099Q1336.4,1100 1335.4,1100H1294.6Q1293.6,1100 1293.6,1099Z" fill="#000"/>
<path d="M1296,1096.5H1334" stroke="#fff" stroke-width="2.2" stroke-dasharray="2.2 3.2"/>
<path d="M1382.57,1093.03 L1385.22,1093.56 L1387.62,1094.20 L1389.71,1094.94 L1391.45,1095.77 L1392.81,1096.67 L1393.77,1097.62 L1394.29,1098.60 L1394.38,1099.60 L1394.03,1100.59 L1393.25,1101.55 L1392.05,1102.47 L1390.46,1103.33 L1388.50,1104.11 L1386.22,1104.79 L1383.67,1105.37 L1380.88,1105.83 L1377.93,1106.15 L1374.86,1106.35 L1371.73,1106.40 L1368.61,1106.31 L1365.56,1106.09 L1362.64,1105.73 L1359.91,1105.24 L1357.41,1104.64 L1355.21,1103.93 L1353.33,1103.14 L1351.83,1102.26 L1350.73,1101.33 L1350.05,1100.36 L1349.80,1099.36 L1349.99,1098.37 L1350.62,1097.39 L1351.67,1096.45 L1353.13,1095.57 L1354.95,1094.76 L1357.12,1094.04 L1359.58,1093.42 L1362.29,1092.92 L1365.19,1092.55 L1368.23,1092.31" fill="none" stroke="#000" stroke-width="1.8"/><path d="M1381.5692158501254,1093.0310720907016L1387.5692158501254,1089.4310720907017L1386.0692158501254,1096.8310720907016Z" fill="#000" stroke="#000" stroke-width="0.8" stroke-linejoin="round"/>
<path d="M1372.6,1104.3V1077.1" stroke="#000" stroke-width="1.8"/><path d="M1369.6,1082.6L1372.6,1077.1L1375.6,1082.6" fill="none" stroke="#000" stroke-width="1.8"/>
<circle cx="1423.6" cy="1094.3" r="14.6" fill="none" stroke="#000" stroke-width="1.4"/><text x="1423.60" y="1102.94" font-size="24" text-anchor="middle">8</text>
<path d="M1303.5,1151.4Q1296,1156 1295.7,1166.4A16.1,16.1 0 1 0 1320,1151.4" fill="#fff" stroke="#000" stroke-width="1.7"/>
<path d="M1301.4,1151.4V1137Q1301.4,1134 1306,1132Q1311.4,1129.5 1316.8,1132Q1321.4,1134 1321.4,1137V1151.4Z" fill="#000"/>
<path d="M1302,1138.5H1321M1302,1140.9H1321M1302,1143.3H1321M1302,1145.7H1321M1302,1148.1H1321" stroke="#666" stroke-width="0.7"/>
<path d="M1305,1152Q1306,1157 1303.5,1163L1306.5,1172L1311.5,1166.5L1316.5,1172L1319.5,1163Q1317,1157 1318,1152" fill="none" stroke="#000" stroke-width="1.4"/>
<path d="M1375.47,1158.73 L1378.12,1159.26 L1380.52,1159.90 L1382.61,1160.64 L1384.35,1161.47 L1385.71,1162.37 L1386.67,1163.32 L1387.19,1164.30 L1387.28,1165.30 L1386.93,1166.29 L1386.15,1167.25 L1384.95,1168.17 L1383.36,1169.03 L1381.40,1169.81 L1379.12,1170.49 L1376.57,1171.07 L1373.78,1171.53 L1370.83,1171.85 L1367.76,1172.05 L1364.63,1172.10 L1361.51,1172.01 L1358.46,1171.79 L1355.54,1171.43 L1352.81,1170.94 L1350.31,1170.34 L1348.11,1169.63 L1346.23,1168.84 L1344.73,1167.96 L1343.63,1167.03 L1342.95,1166.06 L1342.70,1165.06 L1342.89,1164.07 L1343.52,1163.09 L1344.57,1162.15 L1346.03,1161.27 L1347.85,1160.46 L1350.02,1159.74 L1352.48,1159.12 L1355.19,1158.62 L1358.09,1158.25 L1361.13,1158.01" fill="none" stroke="#000" stroke-width="1.8"/><path d="M1374.4692158501255,1158.7310720907017L1380.4692158501255,1155.1310720907018L1378.9692158501255,1162.5310720907016Z" fill="#000" stroke="#000" stroke-width="0.8" stroke-linejoin="round"/>
<path d="M1365.2,1170V1142.9" stroke="#000" stroke-width="1.8"/><path d="M1362.2,1148.4L1365.2,1142.9L1368.2,1148.4" fill="none" stroke="#000" stroke-width="1.8"/>
<circle cx="1416.4" cy="1165" r="14.6" fill="none" stroke="#000" stroke-width="1.4"/><text x="1416.40" y="1173.64" font-size="24" text-anchor="middle">9</text>
<circle cx="1205" cy="236.5" r="14.4" fill="none" stroke="#000" stroke-width="1.4"/><text x="1205.00" y="245.14" font-size="24" text-anchor="middle">2</text>
<path d="M1205.36,274.40 L1202.58,274.18 L1199.93,273.84 L1197.45,273.38 L1195.20,272.82 L1193.22,272.16 L1191.54,271.42 L1190.21,270.61 L1189.25,269.75 L1188.68,268.85 L1188.50,267.94 L1188.73,267.03 L1189.35,266.14 L1190.36,265.29 L1191.73,264.49 L1193.45,263.76 L1195.46,263.11 L1197.74,262.56 L1200.25,262.11 L1202.92,261.79 L1205.71,261.58 L1208.56,261.50 L1211.42,261.55 L1214.23,261.73 L1216.94,262.03 L1219.48,262.44 L1221.82,262.97 L1223.90,263.60 L1225.69,264.31 L1227.15,265.09 L1228.25,265.94 L1228.96,266.82 L1229.28,267.73 L1229.20,268.64 L1228.72,269.54 L1227.85,270.41 L1226.60,271.23 L1225.01,271.99 L1223.10,272.67 L1220.91,273.26 L1218.48,273.74" fill="none" stroke="#000" stroke-width="1.8"/><path d="M1217.4772198808323,273.73915935358303L1223.4772198808323,269.939159353583L1221.9772198808323,277.33915935358306Z" fill="#000" stroke="#000" stroke-width="0.8" stroke-linejoin="round"/>
<path d="M1210.9,262V289" stroke="#000" stroke-width="1.8"/><path d="M1207.9,283.5L1210.9,289L1213.9,283.5" fill="none" stroke="#000" stroke-width="1.8"/>
<path d="M1210.9,297.5V341.6" stroke="#000" stroke-width="1.4"/>
<rect x="1202" y="306.6" width="18.2" height="6.4" fill="#fff" stroke="#000" stroke-width="1.8"/>
<path d="M1207,307V313M1215,307V313" stroke="#000" stroke-width="1.4"/>
<ellipse cx="1210.3" cy="318.9" rx="7.6" ry="3.4" fill="#000" stroke="#000" stroke-width="2"/>
<ellipse cx="1210.3" cy="327.5" rx="7.6" ry="3.4" fill="#000" stroke="#000" stroke-width="2"/>
<ellipse cx="1210.3" cy="336.3" rx="7.6" ry="3.4" fill="#000" stroke="#000" stroke-width="2"/>
<path d="M1204.5,318.9H1216M1204.5,327.5H1216M1204.5,336.3H1216" stroke="#fff" stroke-width="1"/>
<path d="M1218.6,327C1226,325 1232,323 1237,316C1243,307 1246,295 1252,284C1260,271 1272,269 1282,270C1296,272 1310,276 1330.5,275" fill="none" stroke="#000" stroke-width="2.4"/>
<path d="M1244.3,341.4C1248,326 1251,313 1258,303C1266,291 1282,287 1300,285C1312,284 1322,283 1331,282.5M1247.6,341.4C1251,327 1254,315 1261,305C1269,294 1284,290 1301,288C1313,287 1323,286.5 1331,286" fill="none" stroke="#000" stroke-width="1.3"/>
<path d="M1323,286C1326,290 1330,292 1335,289.5" fill="none" stroke="#000" stroke-width="1.8"/>
<rect x="1205.7" y="353.7" width="10.7" height="11.3" rx="1.5" fill="#000"/>
<path d="M1206,356H1216M1206,359H1216M1206,362H1216" stroke="#fff" stroke-width="0.6"/>
<path d="M1204.5,368.7H1217.7A7.5,7.5 0 1 1 1204.5,368.7Z" fill="#fff" stroke="#000" stroke-width="1.6"/>
<path d="M1191.2,399.3A22,5.5 0 0 0 1235.2,399.3" fill="none" stroke="#000" stroke-width="1.5"/><path d="M1191.7,400.3A21.5,9.0 0 0 0 1234.9,400.3" fill="none" stroke="#000" stroke-width="1.5"/><path d="M1191.2,399.8Q1192.2,395.3 1198.2,393.8M1198.2,393.8V397.3" fill="none" stroke="#000" stroke-width="1.5"/><path d="M1235.2,399.8Q1233.2,395.3 1223.1000000000001,394.3" fill="none" stroke="#000" stroke-width="1.5"/><path d="M1228.8,389.8L1219.8,395.3L1227.8,400.3L1226.8,397.3L1233.8,398.3L1232.8,393.3L1228.8,393.3Z" fill="#fff" stroke="#000" stroke-width="1.5" stroke-linejoin="round"/>
<circle cx="1255.5" cy="403.6" r="14.2" fill="none" stroke="#000" stroke-width="1.4"/><text x="1255.50" y="412.24" font-size="24" text-anchor="middle">6</text>
<path d="M1332.30,264.50L1355.00,257.50L1391.00,261.80L1361.60,270.30Z" fill="#fff" stroke="#000" stroke-width="1.60"/><path d="M1361.60,270.30L1391.00,261.80V274.90L1361.60,283.80Z" fill="#fff" stroke="#000" stroke-width="2.00"/><path d="M1332.30,264.50L1361.60,270.30V283.80L1332.30,278.50Z" fill="#000"/><rect x="1336.00" y="268.00" width="2.20" height="5.00" fill="#fff"/><rect x="1345.00" y="270.00" width="2.20" height="5.00" fill="#fff"/><rect x="1354.00" y="272.50" width="2.20" height="5.00" fill="#fff"/><path d="M1343.00,246.50V259.00Q1347.00,261.00 1351.00,259.00V246.50Q1347.00,244.00 1343.00,246.50Z" fill="#fff" stroke="#000" stroke-width="1.70"/><path d="M1343.00,247.00Q1347.00,249.50 1351.00,247.00" fill="none" stroke="#000" stroke-width="2.20"/><path d="M1352.50,245.50V258.00Q1356.50,260.00 1360.50,258.00V245.50Q1356.50,243.00 1352.50,245.50Z" fill="#fff" stroke="#000" stroke-width="1.70"/><path d="M1352.50,246.00Q1356.50,248.50 1360.50,246.00" fill="none" stroke="#000" stroke-width="2.20"/><path d="M1362.80,247.50V260.00Q1366.80,262.00 1370.80,260.00V247.50Q1366.80,245.00 1362.80,247.50Z" fill="#fff" stroke="#000" stroke-width="1.70"/><path d="M1362.80,248.00Q1366.80,250.50 1370.80,248.00" fill="none" stroke="#000" stroke-width="2.20"/><path d="M1373.50,250.00V262.50Q1377.50,264.50 1381.50,262.50V250.00Q1377.50,247.50 1373.50,250.00Z" fill="#fff" stroke="#000" stroke-width="1.70"/><path d="M1373.50,250.50Q1377.50,253.00 1381.50,250.50" fill="none" stroke="#000" stroke-width="2.20"/><path d="M1353.50,251.50V264.00Q1357.50,266.00 1361.50,264.00V251.50Q1357.50,249.00 1353.50,251.50Z" fill="#fff" stroke="#000" stroke-width="1.70"/><path d="M1353.50,252.00Q1357.50,254.50 1361.50,252.00" fill="none" stroke="#000" stroke-width="2.20"/><path d="M1364.00,254.00V266.50Q1368.00,268.50 1372.00,266.50V254.00Q1368.00,251.50 1364.00,254.00Z" fill="#fff" stroke="#000" stroke-width="1.70"/><path d="M1364.00,254.50Q1368.00,257.00 1372.00,254.50" fill="none" stroke="#000" stroke-width="2.20"/>
<path d="M1333.8,297.8L1373.6,284.4L1404.7,291.1L1365,304.3Z" fill="#fff" stroke="#000" stroke-width="2.6" stroke-linejoin="round"/>
<ellipse cx="1369.9" cy="292.7" rx="2.4" ry="1.6" fill="#000"/>
<circle cx="1405.4" cy="320.5" r="14" fill="none" stroke="#000" stroke-width="1.4"/><text x="1405.40" y="329.14" font-size="24" text-anchor="middle">5</text>
<path d="M1392,267.3L1456.41,281.83 L1458.93,285.37 L1461.68,288.82 L1464.68,292.17 L1467.90,295.41 L1471.34,298.54 L1474.99,301.54 L1478.84,304.41 L1482.89,307.15 L1487.12,309.74 L1491.53,312.18 L1496.09,314.46 L1500.81,316.58 L1505.67,318.54 L1510.66,320.32 L1515.77,321.93 L1520.98,323.36 L1526.28,324.61 L1531.66,325.67 L1537.11,326.54 L1542.61,327.22 L1548.16,327.71 L1553.73,328.00 L1559.31,328.10 L1564.89,328.01 L1570.46,327.72 L1576.01,327.24 L1581.51,326.56 L1586.96,325.70 L1592.35,324.64 L1597.65,323.40 L1602.87,321.98 L1607.98,320.38 L1612.97,318.60 L1617.83,316.65 L1622.56,314.53 L1627.13,312.25 L1631.54,309.82 L1635.78,307.23 L1639.83,304.50 L1643.69,301.64 L1647.35,298.64 L1650.80,295.51 L1654.02,292.28 L1657.02,288.93 L1659.79,285.48 L1662.32,281.94 L1664.59,278.32 L1666.62,274.62 L1668.39,270.86 L1669.89,267.03 L1671.14,263.17 L1672.11,259.26 L1672.81,255.32 L1673.24,251.36 L1673.40,247.40 L1673.28,243.43 L1672.89,239.47 L1672.23,235.53 L1671.30,231.62 L1670.10,227.74 L1668.63,223.91 L1666.90,220.14 L1664.91,216.43 L1662.67,212.80 L1660.18,209.24 L1657.45,205.78 L1654.49,202.42 L1651.29,199.16 L1647.88,196.02 L1644.25,193.01 L1640.42,190.12 L1636.40,187.37 L1632.19,184.76 L1627.80,182.30 L1623.25,180.00 L1618.55,177.86 L1613.71,175.88 L1608.73,174.08 L1603.64,172.45 L1598.44,171.00 L1593.15,169.73 L1587.77,168.65 L1582.33,167.76 L1576.84,167.05 L1571.30,166.54 L1565.73,166.22 L1560.15,166.10 L1554.56,166.17 L1548.99,166.44 L1543.44,166.90 L1537.93,167.55 L1532.48,168.39 L1527.08,169.42 L1521.77,170.64 L1516.54,172.04 L1511.42,173.62 L1506.41,175.38 L1501.53,177.31 L1496.79,179.41 L1492.20,181.67 L1487.77,184.09 L1483.51,186.65 L1479.44,189.37 L1475.55,192.22 L1471.87,195.20 L1468.40,198.31 L1465.15,201.54 L1462.12,204.87 L1459.32,208.31 L1456.77,211.84 L1454.46,215.45 L1452.41,219.14 L1450.61,222.90 L1449.07,226.71 L1447.80,230.58 L1446.79,234.48 L1446.06,238.41 L1445.59,242.37 L1445.41,246.34 L1445.49,250.30 Z" fill="none" stroke="#000" stroke-width="1.9"/>
<path d="M1573.3,169.7L1579.6,186.4M1577.5,169.7L1582.5,186" fill="none" stroke="#000" stroke-width="1.5"/>
<path d="M1579.6,186.4C1578,200 1572,212 1565,222C1560,229 1558,232 1556.7,236" fill="none" stroke="#000" stroke-width="1.6"/>
<path d="M1581.6,189C1581,205 1575,218 1570,227C1568,231 1567,233 1566.4,238" fill="none" stroke="#000" stroke-width="1.6"/>
<path d="M1581,188C1588,200 1592,212 1590,225C1588,236 1583,243 1577.5,248" fill="none" stroke="#000" stroke-width="1.6"/>
<text x="1521.5" y="211.4" font-size="17.5" text-anchor="start" >N</text>
<path d="M1532.4,204.7H1571.25M1538,219.4H1573.3M1591.4,218H1614.3" stroke="#000" stroke-width="1.5"/>
<text x="1613.8" y="223.2" font-size="17.5" text-anchor="start" >L</text>
<circle cx="1531" cy="220.4" r="6.9" fill="#fff" stroke="#000" stroke-width="1.6"/><path d="M1525,218.3H1537M1524.5,221.3H1537.5M1527,215.5H1535" stroke="#000" stroke-width="1.2"/>
<path d="M1526.80,251.70L1549.50,244.70L1585.50,249.00L1556.10,257.50Z" fill="#fff" stroke="#000" stroke-width="1.60"/><path d="M1556.10,257.50L1585.50,249.00V262.10L1556.10,271.00Z" fill="#fff" stroke="#000" stroke-width="2.00"/><path d="M1526.80,251.70L1556.10,257.50V271.00L1526.80,265.70Z" fill="#000"/><rect x="1530.50" y="255.20" width="2.20" height="5.00" fill="#fff"/><rect x="1539.50" y="257.20" width="2.20" height="5.00" fill="#fff"/><rect x="1548.50" y="259.70" width="2.20" height="5.00" fill="#fff"/><path d="M1537.50,233.70V246.20Q1541.50,248.20 1545.50,246.20V233.70Q1541.50,231.20 1537.50,233.70Z" fill="#fff" stroke="#000" stroke-width="1.70"/><path d="M1537.50,234.20Q1541.50,236.70 1545.50,234.20" fill="none" stroke="#000" stroke-width="2.20"/><path d="M1547.00,232.70V245.20Q1551.00,247.20 1555.00,245.20V232.70Q1551.00,230.20 1547.00,232.70Z" fill="#fff" stroke="#000" stroke-width="1.70"/><path d="M1547.00,233.20Q1551.00,235.70 1555.00,233.20" fill="none" stroke="#000" stroke-width="2.20"/><path d="M1557.30,234.70V247.20Q1561.30,249.20 1565.30,247.20V234.70Q1561.30,232.20 1557.30,234.70Z" fill="#fff" stroke="#000" stroke-width="1.70"/><path d="M1557.30,235.20Q1561.30,237.70 1565.30,235.20" fill="none" stroke="#000" stroke-width="2.20"/><path d="M1568.00,237.20V249.70Q1572.00,251.70 1576.00,249.70V237.20Q1572.00,234.70 1568.00,237.20Z" fill="#fff" stroke="#000" stroke-width="1.70"/><path d="M1568.00,237.70Q1572.00,240.20 1576.00,237.70" fill="none" stroke="#000" stroke-width="2.20"/><path d="M1548.00,238.70V251.20Q1552.00,253.20 1556.00,251.20V238.70Q1552.00,236.20 1548.00,238.70Z" fill="#fff" stroke="#000" stroke-width="1.70"/><path d="M1548.00,239.20Q1552.00,241.70 1556.00,239.20" fill="none" stroke="#000" stroke-width="2.20"/><path d="M1558.50,241.20V253.70Q1562.50,255.70 1566.50,253.70V241.20Q1562.50,238.70 1558.50,241.20Z" fill="#fff" stroke="#000" stroke-width="1.70"/><path d="M1558.50,241.70Q1562.50,244.20 1566.50,241.70" fill="none" stroke="#000" stroke-width="2.20"/>
<text x="1494.5" y="280.1" font-size="17.5" text-anchor="start" >N</text>
<text x="1581.8" y="279.4" font-size="17.5" text-anchor="start" >L</text>
<path d="M1505.3,274.2H1529.6M1553.2,274.2H1580.3M1542.1,283.6H1565" stroke="#000" stroke-width="1.5"/>
<circle cx="1571.9" cy="283.6" r="6.9" fill="#fff" stroke="#000" stroke-width="1.6"/><path d="M1566,281H1578M1565.5,284H1578.5M1571.9,284V290" stroke="#000" stroke-width="1.2"/>
<path d="M1531,270C1533,285 1536,298 1540.7,306M1543,272C1542,285 1541,298 1540.5,306M1553,275C1549,285 1544,296 1540.7,306" fill="none" stroke="#000" stroke-width="1.6"/>
<path d="M1539.3,307.2L1543.5,326M1543.5,306.5L1548.3,326" fill="none" stroke="#000" stroke-width="1.5"/>
<path d="M1607.8,276.4H1660.6L1633.75,231.5Z" fill="none" stroke="#000" stroke-width="1.4" stroke-linejoin="miter"/>
<path d="M1632,239L1638.5,239.5L1633.5,252L1641,249.5L1636.5,266L1640,266L1634,275L1629.5,265.5L1633,266L1635.5,257L1627,262Z" fill="#000"/>
</svg></body></html>
